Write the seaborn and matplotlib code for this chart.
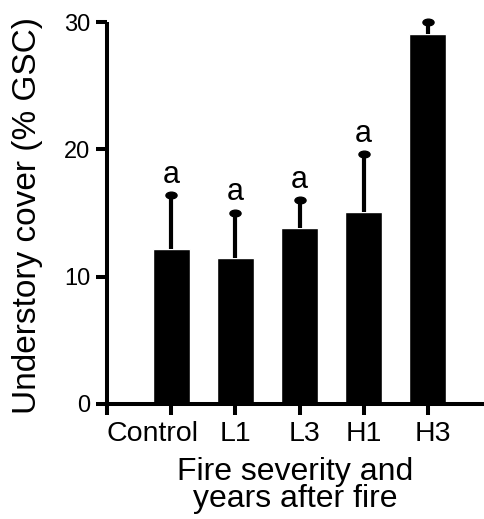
import numpy as np
import pandas as pd
import seaborn as sns
import matplotlib
matplotlib.use("Agg")
import matplotlib.pyplot as plt
from matplotlib.path import Path
from matplotlib.transforms import Affine2D, ScaledTranslation

categories = ["Control", "L1", "L3", "H1", "H3"]
means = [12.2, 11.5, 13.8, 15.1, 29.1]
errors = [4.2, 3.5, 2.2, 4.5, 0.9]
letters = ["a", "a", "a", "a", ""]
yticks = [0, 10, 20, 30]

sns.set_theme(style="ticks")
plt.rcParams["font.family"] = ["Liberation Sans", "DejaVu Sans"]
plt.rcParams["text.color"] = "black"
plt.rcParams["axes.labelcolor"] = "black"

fig = plt.figure(figsize=(4.84, 5.19), dpi=100)
ax = fig.add_axes([107 / 484, 1 - 404 / 519, 377 / 484, (404 - 15.7) / 519])

df = pd.DataFrame({"cat": categories, "val": means})
sns.barplot(data=df, x="cat", y="val", color="black", width=0.58,
            errorbar=None, ax=ax, saturation=1)

xpos = np.arange(len(categories))
cap_marker = Path.unit_circle().transformed(Affine2D().scale(1.0, 0.6))
ax.errorbar(xpos, means, yerr=[np.zeros(len(means)), errors], fmt="none",
            ecolor="black", elinewidth=3.0, capsize=0)
tops = np.array(means) + np.array(errors)
ax.plot(xpos, tops, linestyle="none", marker=cap_marker, markersize=8,
        color="black")
for x, t, lab in zip(xpos, tops, letters):
    if lab:
        ax.annotate(lab, (x, t), xytext=(0, 4), textcoords="offset points",
                    ha="center", va="bottom", fontsize=22)

ax.set_xlim(-1, 4.875)
ax.set_ylim(0, 30.5)
ax.set_xticks(np.arange(-1, len(categories)))
ax.set_xticklabels([""] + categories)
ax.set_yticks(yticks)
ax.set_yticklabels([str(v) for v in yticks])
ax.tick_params(axis="both", which="major", length=8, width=2.9,
               color="black", labelcolor="black", labelsize=17, pad=4)
ax.tick_params(axis="x", labelsize=20.5, pad=4)
# small horizontal offsets of the category labels, as in the original
label_shift_px = [0, -19, 0, 5, 0, 5]
for lab, dx in zip(ax.get_xticklabels(), label_shift_px):
    lab.set_transform(lab.get_transform() +
                      ScaledTranslation(dx / 100, 0, fig.dpi_scale_trans))
for side in ["top", "right"]:
    ax.spines[side].set_visible(False)
for side in ["left", "bottom"]:
    ax.spines[side].set_linewidth(2.9)
    ax.spines[side].set_color("black")
ax.spines["left"].set_bounds(0, 30)
ax.spines["left"].set_capstyle("butt")

ax.set_ylabel("Understory cover (% GSC)", fontsize=24, va="center")
ax.yaxis.set_label_coords((28 - 107) / 377, (404 - 216) / 388.3)
ax.set_xlabel("Fire severity and\nyears after fire", fontsize=23,
              linespacing=0.88)
ax.xaxis.set_label_coords(0.5, (404 - 457) / 388.3)

fig.savefig("out.png", dpi=100)
